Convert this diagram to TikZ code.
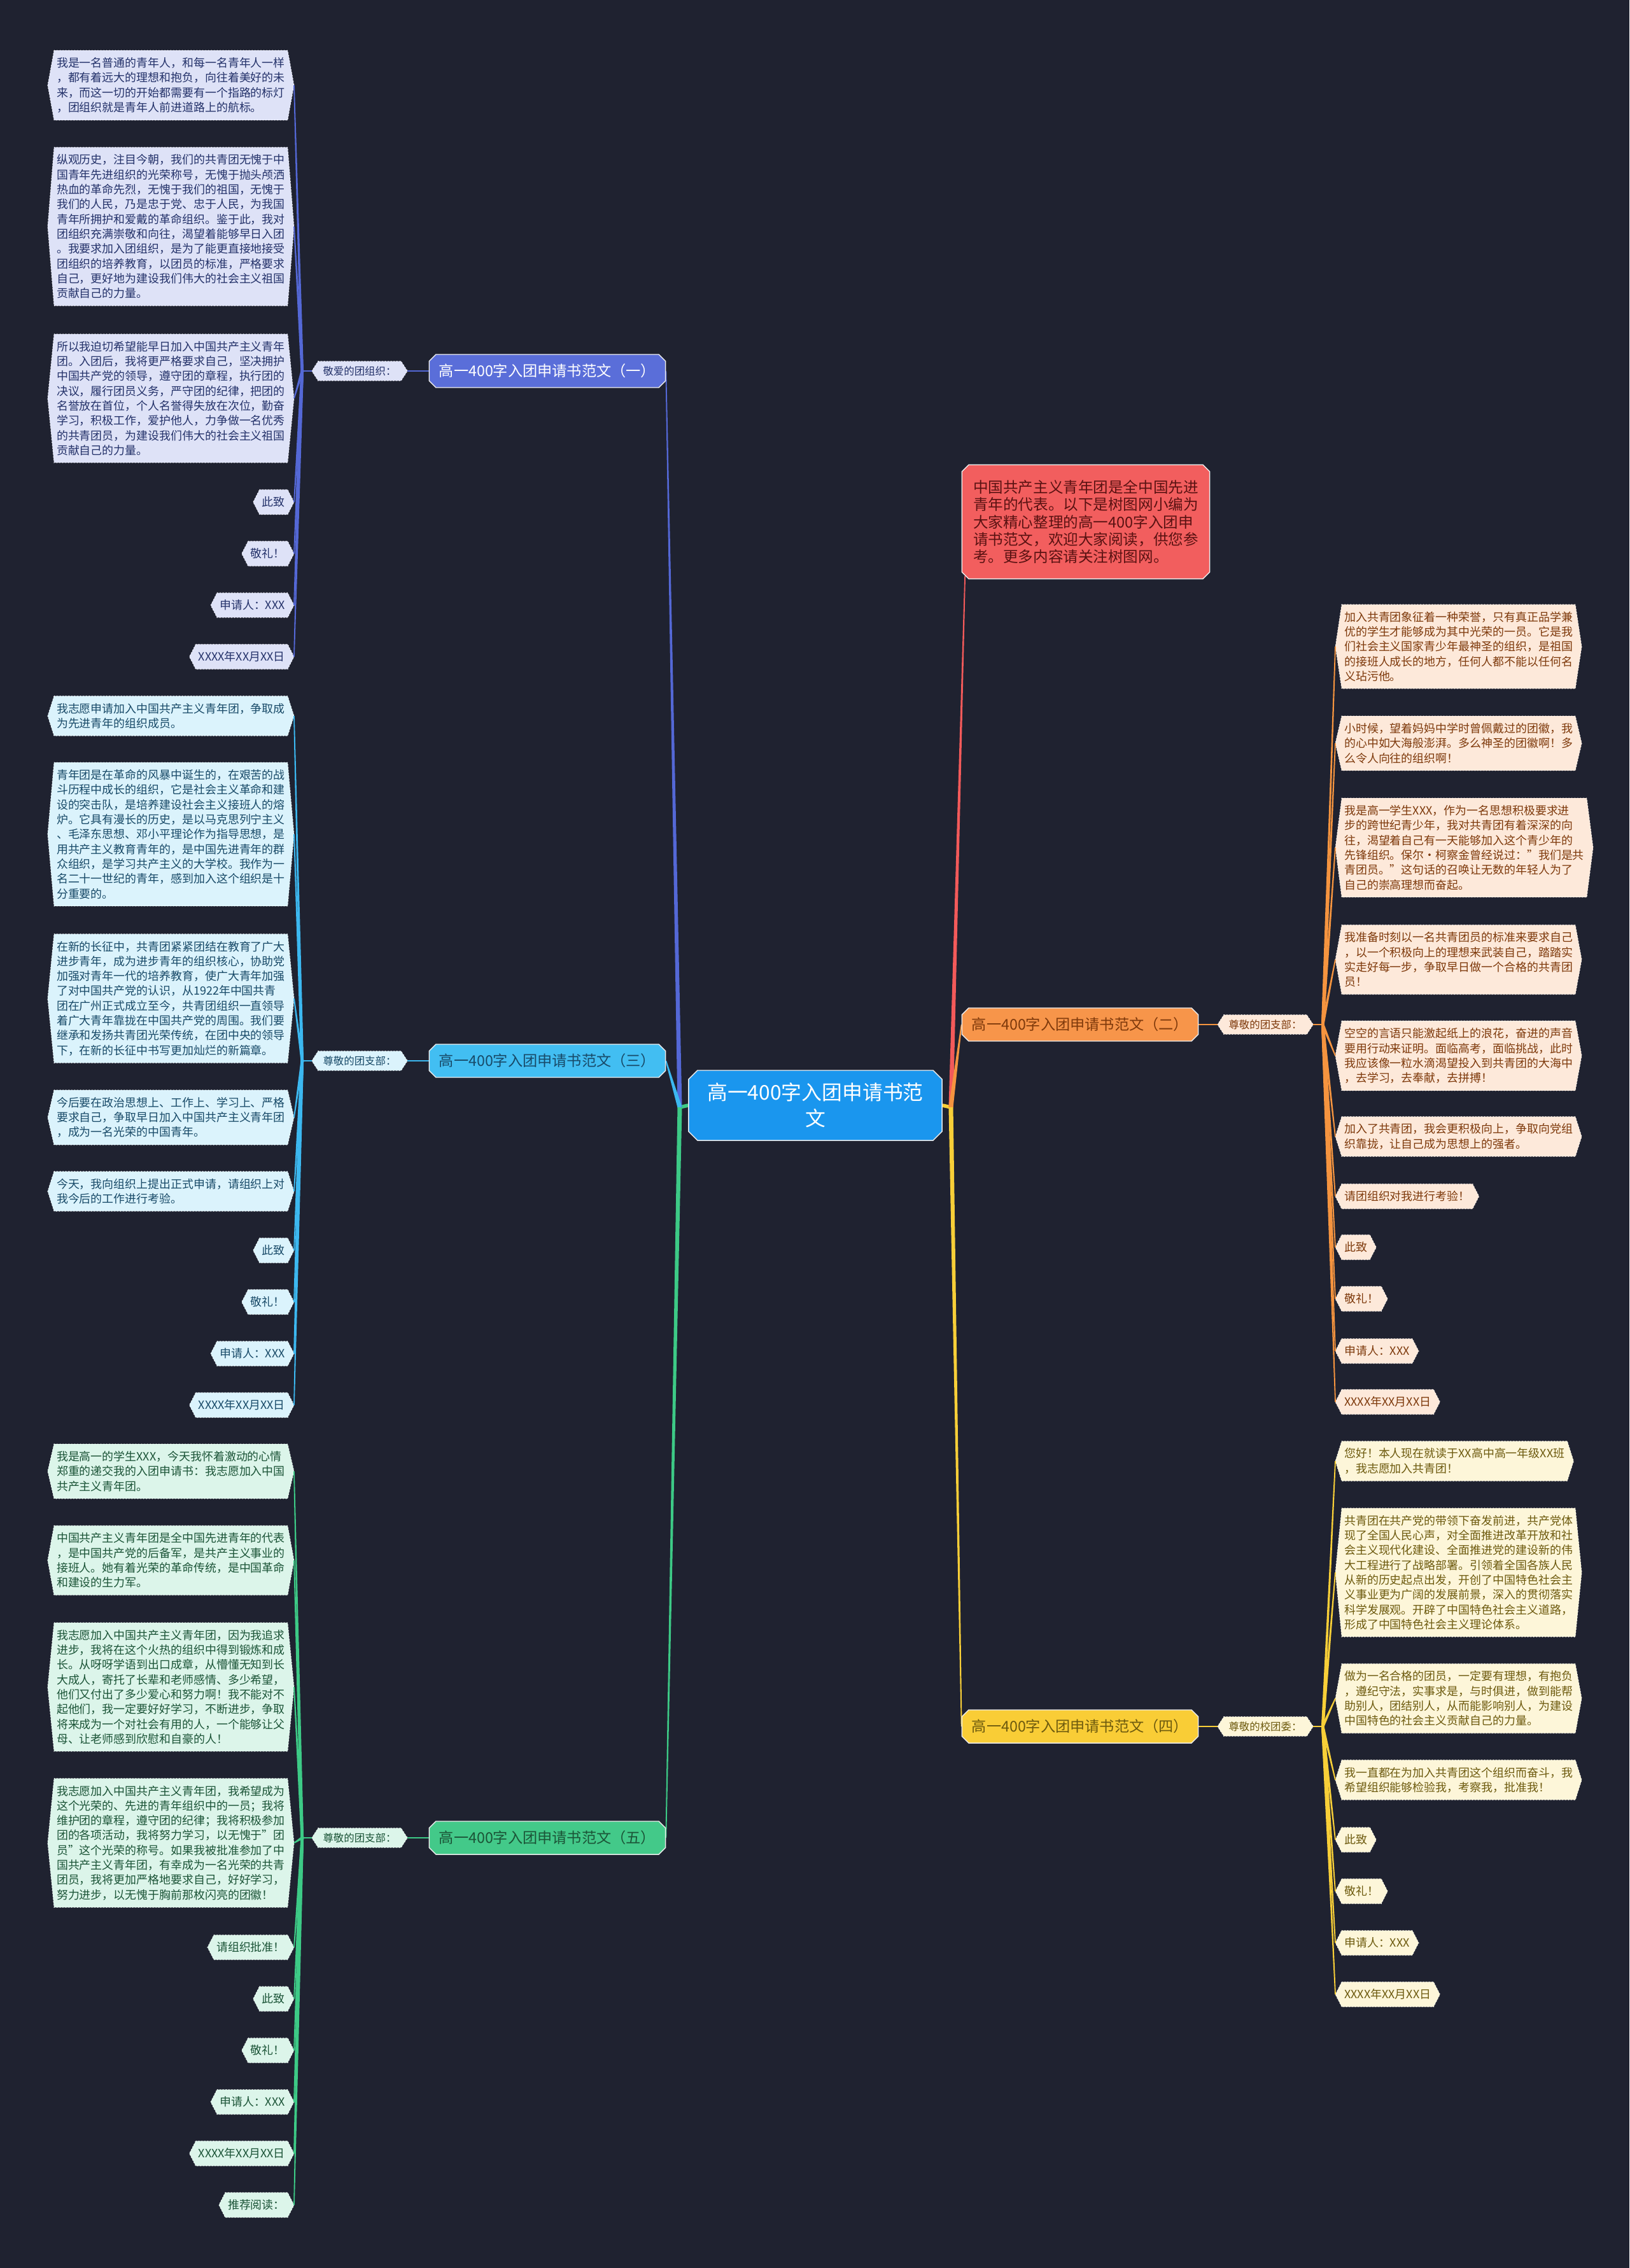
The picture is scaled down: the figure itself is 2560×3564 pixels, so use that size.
\documentclass[tikz,border=0pt]{standalone}
\usepackage{fontspec}
\setmainfont{Noto Sans CJK SC}
\usetikzlibrary{calc,shapes.misc}
\definecolor{bgdark}{HTML}{1F2230}
\definecolor{rootblue}{HTML}{1A96EE}
\definecolor{line1}{HTML}{5468D6}\definecolor{node1}{HTML}{5A6ED9}\definecolor{fill1}{HTML}{DEE2F7}\definecolor{txt1}{HTML}{24326A}
\definecolor{line2}{HTML}{F5943F}\definecolor{node2}{HTML}{F7954A}\definecolor{fill2}{HTML}{FDE9DA}\definecolor{txt2}{HTML}{7E390B}
\definecolor{line3}{HTML}{3CB8F0}\definecolor{node3}{HTML}{42BEF2}\definecolor{fill3}{HTML}{DBF3FC}\definecolor{txt3}{HTML}{184A68}
\definecolor{line4}{HTML}{F8CF38}\definecolor{node4}{HTML}{F9CD36}\definecolor{fill4}{HTML}{FDF6D9}\definecolor{txt4}{HTML}{6D5A0E}
\definecolor{line5}{HTML}{3DCA86}\definecolor{node5}{HTML}{43C989}\definecolor{fill5}{HTML}{DCF5EA}\definecolor{txt5}{HTML}{1B5437}
\definecolor{lineR}{HTML}{F35A5A}\definecolor{nodeR}{HTML}{F25E5E}\definecolor{txtR}{HTML}{5A1212}
\pgfdeclarelayer{bg}
\pgfdeclarelayer{background}
\pgfsetlayers{bg,background,main}

% hexagon behind a node, with tip coordinates name-e / name-w
\newcommand{\hexfill}[2]{%
  \coordinate (#1-e) at ($(#1.east)+(10,0)$);
  \coordinate (#1-w) at ($(#1.west)+(-10,0)$);
  \begin{pgfonlayer}{background}
    \filldraw[fill=#2, draw=white, densely dotted, line width=0.3pt]
      (#1.north west) -- (#1.north east) -- (#1-e) -- (#1.south east)
      -- (#1.south west) -- (#1-w) -- cycle;
  \end{pgfonlayer}}
% name, anchor, x, y, branch, text
\newcommand{\leaf}[6]{%
  \node[leaf, text=txt#5, anchor=#2] (#1) at (#3,#4) {#6};
  \hexfill{#1}{fill#5}}
% tapered connector: from, to, colour, half width at start
\newcommand{\taper}[4]{%
  \fill[#3] ($(#1)!#4!90:(#2)$) -- ($(#2)!0.25pt!-90:(#1)$)
    -- ($(#2)!0.25pt!90:(#1)$) -- ($(#1)!#4!-90:(#2)$) -- cycle;}

\begin{document}
\begin{tikzpicture}[x=0.01cm, y=-0.01cm,
  leaf/.style={font=\fontsize{5.1}{6.63}\selectfont, align=left, inner xsep=1pt, inner ysep=3pt},
  greet/.style={font=\fontsize{4.67}{5.6}\selectfont, inner xsep=2pt, inner ysep=2pt},
  topic/.style={chamfered rectangle, chamfered rectangle sep=1.5pt, draw=white!85!gray,
    line width=0.4pt, minimum width=3.71cm, minimum height=0.52cm, inner sep=0pt,
    font=\fontsize{6.6}{8}\selectfont},
  rootbox/.style={chamfered rectangle, chamfered rectangle sep=2pt, fill=rootblue,
    draw=white!85!gray, line width=0.4pt, text=white, align=center, minimum width=3.98cm,
    minimum height=1.1cm, inner sep=0pt, font=\fontsize{9.05}{11.7}\selectfont},
  introbox/.style={chamfered rectangle, chamfered rectangle sep=1.5pt, fill=nodeR,
    draw=white!85!gray, line width=0.4pt, text=txtR, align=left, minimum width=3.89cm,
    minimum height=1.79cm, inner sep=0pt, font=\fontsize{6.7}{7.8}\selectfont}]
  \useasboundingbox (0,0) rectangle (2560,3564);
  \begin{pgfonlayer}{bg}
    \fill[bgdark] (0,0) rectangle (2560,3564);
  \end{pgfonlayer}

  % centre and main topics
  \node[rootbox] (root) at (1281,1737) {高一400字入团申请书范\\文};
  \coordinate (rl) at (1068,1740);
  \coordinate (rr) at (1494,1740);
  \node[topic, fill=node1, text=white] (t1) at (860,583) {高一400字入团申请书范文（一）};
  \node[topic, fill=node3, text=txt3] (t3) at (860,1667) {高一400字入团申请书范文（三）};
  \node[topic, fill=node5, text=txt5] (t5) at (860,2888) {高一400字入团申请书范文（五）};
  \node[topic, fill=node2, text=txt2] (t2) at (1697,1610) {高一400字入团申请书范文（二）};
  \node[topic, fill=node4, text=txt4] (t4) at (1697,2713) {高一400字入团申请书范文（四）};
  \node[introbox] (intro) at (1706,820) {中国共产主义青年团是全中国先进\\青年的代表。以下是树图网小编为\\大家精心整理的高一400字入团申\\请书范文，欢迎大家阅读，供您参\\考。更多内容请关注树图网。};

  % greetings
  \node[greet, text=txt1] (g1) at (565,583) {敬爱的团组织：}; \hexfill{g1}{fill1}
  \node[greet, text=txt3] (g3) at (565,1667) {尊敬的团支部：}; \hexfill{g3}{fill3}
  \node[greet, text=txt5] (g5) at (565,2888) {尊敬的团支部：}; \hexfill{g5}{fill5}
  \node[greet, text=txt2] (g2) at (1988,1610) {尊敬的团支部：}; \hexfill{g2}{fill2}
  \node[greet, text=txt4] (g4) at (1988,2713) {尊敬的校团委：}; \hexfill{g4}{fill4}
  \coordinate (o1) at ($(g1-w)+(-15,0)$);
  \coordinate (o3) at ($(g3-w)+(-15,0)$);
  \coordinate (o5) at ($(g5-w)+(-15,0)$);
  \coordinate (o2) at ($(g2-e)+(15,0)$);
  \coordinate (o4) at ($(g4-e)+(15,0)$);

  % branch one
  \leaf{l1-1}{east}{452}{134}{1}{我是一名普通的青年人，和每一名青年人一样\\，都有着远大的理想和抱负，向往着美好的未\\来，而这一切的开始都需要有一个指路的标灯\\，团组织就是青年人前进道路上的航标。}
  \leaf{l1-2}{east}{452}{356}{1}{纵观历史，注目今朝，我们的共青团无愧于中\\国青年先进组织的光荣称号，无愧于抛头颅洒\\热血的革命先烈，无愧于我们的祖国，无愧于\\我们的人民，乃是忠于党、忠于人民，为我国\\青年所拥护和爱戴的革命组织。鉴于此，我对\\团组织充满崇敬和向往，渴望着能够早日入团\\。我要求加入团组织，是为了能更直接地接受\\团组织的培养教育，以团员的标准，严格要求\\自己，更好地为建设我们伟大的社会主义祖国\\贡献自己的力量。}
  \leaf{l1-3}{east}{452}{626}{1}{所以我迫切希望能早日加入中国共产主义青年\\团。入团后，我将更严格要求自己，坚决拥护\\中国共产党的领导，遵守团的章程，执行团的\\决议，履行团员义务，严守团的纪律，把团的\\名誉放在首位，个人名誉得失放在次位，勤奋\\学习，积极工作，爱护他人，力争做一名优秀\\的共青团员，为建设我们伟大的社会主义祖国\\贡献自己的力量。}
  \leaf{l1-4}{east}{452}{789}{1}{此致}
  \leaf{l1-5}{east}{452}{870}{1}{敬礼！}
  \leaf{l1-6}{east}{452}{951}{1}{申请人：XXX}
  \leaf{l1-7}{east}{452}{1032}{1}{XXXX年XX月XX日}

  % branch three
  \leaf{l3-1}{east}{452}{1125}{3}{我志愿申请加入中国共产主义青年团，争取成\\为先进青年的组织成员。}
  \leaf{l3-2}{east}{452}{1311}{3}{青年团是在革命的风暴中诞生的，在艰苦的战\\斗历程中成长的组织，它是社会主义革命和建\\设的突击队，是培养建设社会主义接班人的熔\\炉。它具有漫长的历史，是以马克思列宁主义\\、毛泽东思想、邓小平理论作为指导思想，是\\用共产主义教育青年的，是中国先进青年的群\\众组织，是学习共产主义的大学校。我作为一\\名二十一世纪的青年，感到加入这个组织是十\\分重要的。}
  \leaf{l3-3}{east}{452}{1569}{3}{在新的长征中，共青团紧紧团结在教育了广大\\进步青年，成为进步青年的组织核心，协助党\\加强对青年一代的培养教育，使广大青年加强\\了对中国共产党的认识，从1922年中国共青\\团在广州正式成立至今，共青团组织一直领导\\着广大青年靠拢在中国共产党的周围。我们要\\继承和发扬共青团光荣传统，在团中央的领导\\下，在新的长征中书写更加灿烂的新篇章。}
  \leaf{l3-4}{east}{452}{1756}{3}{今后要在政治思想上、工作上、学习上、严格\\要求自己，争取早日加入中国共产主义青年团\\，成为一名光荣的中国青年。}
  \leaf{l3-5}{east}{452}{1872}{3}{今天，我向组织上提出正式申请，请组织上对\\我今后的工作进行考验。}
  \leaf{l3-6}{east}{452}{1965}{3}{此致}
  \leaf{l3-7}{east}{452}{2046}{3}{敬礼！}
  \leaf{l3-8}{east}{452}{2127}{3}{申请人：XXX}
  \leaf{l3-9}{east}{452}{2208}{3}{XXXX年XX月XX日}

  % branch five
  \leaf{l5-1}{east}{452}{2312}{5}{我是高一的学生XXX，今天我怀着激动的心情\\郑重的递交我的入团申请书：我志愿加入中国\\共产主义青年团。}
  \leaf{l5-2}{east}{452}{2452}{5}{中国共产主义青年团是全中国先进青年的代表\\，是中国共产党的后备军，是共产主义事业的\\接班人。她有着光荣的革命传统，是中国革命\\和建设的生力军。}
  \leaf{l5-3}{east}{452}{2651}{5}{我志愿加入中国共产主义青年团，因为我追求\\进步，我将在这个火热的组织中得到锻炼和成\\长。从呀呀学语到出口成章，从懵懂无知到长\\大成人，寄托了长辈和老师感情、多少希望，\\他们又付出了多少爱心和努力啊！我不能对不\\起他们，我一定要好好学习，不断进步，争取\\将来成为一个对社会有用的人，一个能够让父\\母、让老师感到欣慰和自豪的人！}
  \leaf{l5-4}{east}{452}{2896}{5}{我志愿加入中国共产主义青年团，我希望成为\\这个光荣的、先进的青年组织中的一员；我将\\维护团的章程，遵守团的纪律；我将积极参加\\团的各项活动，我将努力学习，以无愧于"团\\员"这个光荣的称号。如果我被批准参加了中\\国共产主义青年团，有幸成为一名光荣的共青\\团员，我将更加严格地要求自己，好好学习，\\努力进步，以无愧于胸前那枚闪亮的团徽！}
  \leaf{l5-5}{east}{452}{3060}{5}{请组织批准！}
  \leaf{l5-6}{east}{452}{3141}{5}{此致}
  \leaf{l5-7}{east}{452}{3222}{5}{敬礼！}
  \leaf{l5-8}{east}{452}{3303}{5}{申请人：XXX}
  \leaf{l5-9}{east}{452}{3384}{5}{XXXX年XX月XX日}
  \leaf{l5-10}{east}{452}{3465}{5}{推荐阅读：}

  % branch two
  \leaf{l2-1}{west}{2108}{1016}{2}{加入共青团象征着一种荣誉，只有真正品学兼\\优的学生才能够成为其中光荣的一员。它是我\\们社会主义国家青少年最神圣的组织，是祖国\\的接班人成长的地方，任何人都不能以任何名\\义玷污他。}
  \leaf{l2-2}{west}{2108}{1168}{2}{小时候，望着妈妈中学时曾佩戴过的团徽，我\\的心中如大海般澎湃。多么神圣的团徽啊！多\\么令人向往的组织啊！}
  \leaf{l2-3}{west}{2108}{1332}{2}{我是高一学生XXX，作为一名思想积极要求进\\步的跨世纪青少年，我对共青团有着深深的向\\往，渴望着自己有一天能够加入这个青少年的\\先锋组织。保尔·柯察金曾经说过："我们是共\\青团员。"这句话的召唤让无数的年轻人为了\\自己的崇高理想而奋起。}
  \leaf{l2-4}{west}{2108}{1508}{2}{我准备时刻以一名共青团员的标准来要求自己\\，以一个积极向上的理想来武装自己，踏踏实\\实走好每一步，争取早日做一个合格的共青团\\员！}
  \leaf{l2-5}{west}{2108}{1659}{2}{空空的言语只能激起纸上的浪花，奋进的声音\\要用行动来证明。面临高考，面临挑战，此时\\我应该像一粒水滴渴望投入到共青团的大海中\\，去学习，去奉献，去拼搏！}
  \leaf{l2-6}{west}{2108}{1786}{2}{加入了共青团，我会更积极向上，争取向党组\\织靠拢，让自己成为思想上的强者。}
  \leaf{l2-7}{west}{2108}{1880}{2}{请团组织对我进行考验！}
  \leaf{l2-8}{west}{2108}{1960}{2}{此致}
  \leaf{l2-9}{west}{2108}{2041}{2}{敬礼！}
  \leaf{l2-10}{west}{2108}{2123}{2}{申请人：XXX}
  \leaf{l2-11}{west}{2108}{2203}{2}{XXXX年XX月XX日}

  % branch four
  \leaf{l4-1}{west}{2108}{2296}{4}{您好！本人现在就读于XX高中高一年级XX班\\，我志愿加入共青团！}
  \leaf{l4-2}{west}{2108}{2471}{4}{共青团在共产党的带领下奋发前进，共产党体\\现了全国人民心声，对全面推进改革开放和社\\会主义现代化建设、全面推进党的建设新的伟\\大工程进行了战略部署。引领着全国各族人民\\从新的历史起点出发，开创了中国特色社会主\\义事业更为广阔的发展前景，深入的贯彻落实\\科学发展观。开辟了中国特色社会主义道路，\\形成了中国特色社会主义理论体系。}
  \leaf{l4-3}{west}{2108}{2669}{4}{做为一名合格的团员，一定要有理想，有抱负\\，遵纪守法，实事求是，与时俱进，做到能帮\\助别人，团结别人，从而能影响别人，为建设\\中国特色的社会主义贡献自己的力量。}
  \leaf{l4-4}{west}{2108}{2797}{4}{我一直都在为加入共青团这个组织而奋斗，我\\希望组织能够检验我，考察我，批准我！}
  \leaf{l4-5}{west}{2108}{2891}{4}{此致}
  \leaf{l4-6}{west}{2108}{2972}{4}{敬礼！}
  \leaf{l4-7}{west}{2108}{3053}{4}{申请人：XXX}
  \leaf{l4-8}{west}{2108}{3134}{4}{XXXX年XX月XX日}

  % connectors
  \begin{pgfonlayer}{background}
    \draw[line5, line width=1.6pt] (root.west) -- (rl);
    \draw[line4, line width=1.6pt] (root.east) -- (rr);
    \taper{rl}{t1.east}{line1}{1pt}
    \taper{rl}{t3.east}{line3}{1pt}
    \taper{rl}{t5.east}{line5}{1pt}
    \taper{rr}{intro.south west}{lineR}{1pt}
    \taper{rr}{t2.west}{line2}{1pt}
    \taper{rr}{t4.west}{line4}{1pt}
    \draw[line1, line width=0.65pt] (t1.west) -- (g1-e) (g1-w) -- (o1);
    \draw[line3, line width=0.65pt] (t3.west) -- (g3-e) (g3-w) -- (o3);
    \draw[line5, line width=0.65pt] (t5.west) -- (g5-e) (g5-w) -- (o5);
    \draw[line2, line width=0.65pt] (t2.east) -- (g2-w) (g2-e) -- (o2);
    \draw[line4, line width=0.65pt] (t4.east) -- (g4-w) (g4-e) -- (o4);
    \foreach \i in {1,...,7} {\taper{o1}{l1-\i-e}{line1}{0.65pt}}
    \foreach \i in {1,...,9} {\taper{o3}{l3-\i-e}{line3}{0.65pt}}
    \foreach \i in {1,...,10} {\taper{o5}{l5-\i-e}{line5}{0.65pt}}
    \foreach \i in {1,...,11} {\taper{o2}{l2-\i-w}{line2}{0.65pt}}
    \foreach \i in {1,...,8} {\taper{o4}{l4-\i-w}{line4}{0.65pt}}
  \end{pgfonlayer}
\end{tikzpicture}
\end{document}
